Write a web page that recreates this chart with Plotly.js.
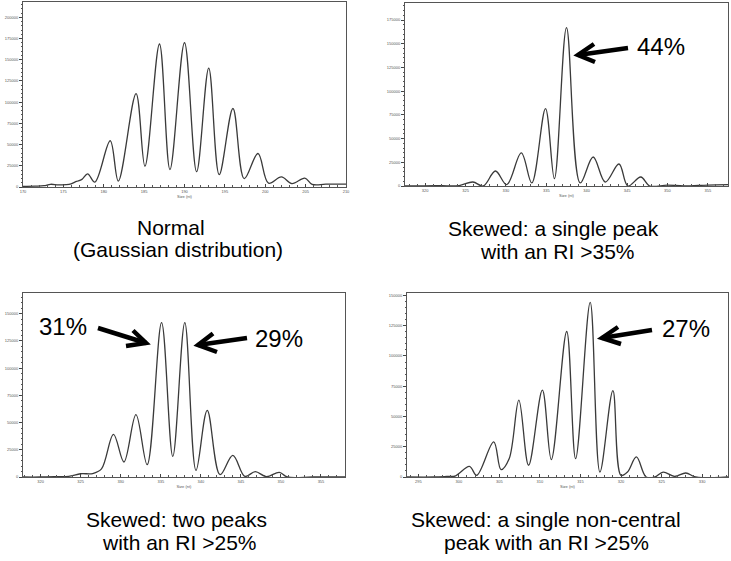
<!DOCTYPE html>
<html>
<head>
<meta charset="utf-8">
<script src="https://cdn.plot.ly/plotly-3.0.1.min.js"></script>
<style>html,body{margin:0;padding:0;background:#fff}#chart{width:731px;height:561px}</style>
</head>
<body>
<div id="chart"></div>
<script>
// ---------- data ----------
const normalSize = [170.0,171.5,172.6,173.4,174.4,175.7,176.6,177.3,178.0,178.9,180.8,181.8,184.0,185.1,186.9,188.2,190.0,191.5,193.0,194.3,196.0,197.4,199.1,200.4,202.0,203.3,204.9,205.8,207.5,210.0];
const normalRFU  = [800,1000,1500,3200,2500,3000,6500,9000,15500,5800,54500,7000,110000,24500,168500,20500,170000,18000,140000,14500,92500,9800,39500,4500,12000,4000,10500,3200,3300,3500];

const singlePeakSize = [317.5,320.0,322.0,324.2,325.9,327.2,328.7,330.1,331.9,333.2,334.9,336.0,337.5,339.2,340.8,342.3,344.0,345.1,346.7,347.8,350.0,352.0,355.0,357.5];
const singlePeakRFU  = [0,200,300,500,4200,0,15800,1400,34900,3200,81700,7700,167000,3200,30600,4200,23200,0,9500,0,1000,0,1000,1500];

const twoPeakSize = [317.8,320.0,322.0,323.5,325.0,326.5,327.6,329.1,330.4,331.9,333.3,335.1,336.5,338.0,339.4,340.8,342.4,344.0,345.5,346.8,348.2,349.8,350.8,354.0,358.0];
const twoPeakRFU  = [0,0,300,600,3000,3200,7500,39200,13800,57200,11300,141700,19000,141700,6100,61200,2100,19900,600,4900,300,4300,0,0,0];

const nonCentralSize = [293.6,297.0,298.5,299.6,301.3,302.2,304.3,305.2,306.2,307.4,308.6,310.3,311.4,313.3,314.4,316.2,317.4,319.0,320.0,320.8,321.9,323.1,324.2,325.2,326.6,328.0,329.2,333.2];
const nonCentralRFU  = [0,0,500,1000,8800,1400,29000,6100,15000,63500,9700,71800,14400,120200,15200,144200,4100,71300,1400,4100,16600,0,0,4100,500,3300,0,0];

const yTicks = [0,25000,50000,75000,100000,125000,150000,175000,200000];
const yTickText = ["0","25000","50000","75000","100000","125000","150000","175000","200000"];
const xTitle = "Size (nt)";

const captions = [
  ["Normal", "(Gaussian distribution)"],
  ["Skewed: a single peak", "with an RI >35%"],
  ["Skewed: two peaks", "with an RI >25%"],
  ["Skewed: a single non-central", "peak with an RI >25%"]
];
const percentLabels = ["44%", "31%", "29%", "27%"];

// ---------- layout helpers (pixel -> paper) ----------
const W = 731, H = 561;
const px = x => x / W;
const py = y => 1 - y / H;

const panels = [
  {xs: normalSize, ys: normalRFU, box: [23, 346, 2, 187], xr: [170, 210], yr: [0, 218000], xd: 5},
  {xs: singlePeakSize, ys: singlePeakRFU, box: [405, 728, 3, 186], xr: [317.5, 357.5], yr: [0, 193000], xd: 5},
  {xs: twoPeakSize, ys: twoPeakRFU, box: [23, 345, 293, 477], xr: [317.8, 358], yr: [0, 169000], xd: 5},
  {xs: nonCentralSize, ys: nonCentralRFU, box: [407, 728, 293, 477], xr: [293.6, 333.2], yr: [0, 152000], xd: 5}
];

const traces = [];
const layout = {
  width: W, height: H,
  margin: {l: 0, r: 0, t: 0, b: 0},
  paper_bgcolor: '#ffffff', plot_bgcolor: '#ffffff',
  showlegend: false,
  font: {family: 'Liberation Sans, Arial, sans-serif', color: '#000'},
  annotations: [], shapes: []
};

panels.forEach((p, i) => {
  const n = i === 0 ? '' : String(i + 1);
  traces.push({
    type: 'scatter', mode: 'lines', x: p.xs, y: p.ys,
    xaxis: 'x' + n, yaxis: 'y' + n,
    line: {color: '#3a3a3a', width: 1.3, shape: 'spline', smoothing: 1},
    hoverinfo: 'skip'
  });
  const [l, r, t, b] = p.box;
  layout['xaxis' + n] = {
    domain: [px(l), px(r)], range: p.xr, anchor: 'y' + n,
    showgrid: false, zeroline: false, showline: true, mirror: true,
    linecolor: '#555', linewidth: 1,
    ticks: 'inside', ticklen: 3, tickcolor: '#444', dtick: p.xd, tick0: 0,
    minor: {dtick: 1, ticks: 'inside', ticklen: 2, tickcolor: '#555', showgrid: false},
    tickfont: {size: 4, color: '#555'},
    title: {text: xTitle, font: {size: 4, color: '#555'}, standoff: 2}
  };
  layout['yaxis' + n] = {
    domain: [py(b), py(t)], range: p.yr, anchor: 'x' + n,
    showgrid: false, zeroline: false, showline: true, mirror: true,
    linecolor: '#555', linewidth: 1,
    ticks: 'outside', ticklen: 3, tickcolor: '#444',
    tickvals: yTicks, ticktext: yTickText,
    minor: {dtick: 5000, ticks: 'outside', ticklen: 1.5, tickcolor: '#555', showgrid: false},
    tickfont: {size: 4, color: '#555'}
  };
});

// captions (each line placed separately to reproduce the tight line spacing)
const capPos = [
  [[171, 227], [178, 250]],
  [[553, 228.5], [557, 251.5]],
  [[176, 519.5], [179.5, 542.5]],
  [[546, 519.5], [546, 542.5]]
];
captions.forEach((lines, i) => {
  lines.forEach((txt, j) => {
    layout.annotations.push({
      text: txt, xref: 'paper', yref: 'paper',
      x: px(capPos[i][j][0]), y: py(capPos[i][j][1]),
      xanchor: 'center', yanchor: 'middle', showarrow: false, borderpad: 0,
      font: {size: 21, color: '#000', family: 'Liberation Sans, Arial, sans-serif'}
    });
  });
});

// percentage labels
const pctPos = [[661, 46], [62.5, 326], [279, 338], [685.5, 328.3]];
percentLabels.forEach((t, i) => {
  layout.annotations.push({
    text: t, xref: 'paper', yref: 'paper',
    x: px(pctPos[i][0]), y: py(pctPos[i][1]),
    xanchor: 'center', yanchor: 'middle', showarrow: false, borderpad: 0,
    font: {size: 24, color: '#000', family: 'Liberation Sans, Arial, sans-serif'}
  });
});

// arrows: tip, tail, wing1, wing2 (pixels)
const arrows = [
  {tip: [578, 55], tail: [628, 48], w1: [594, 44], w2: [595, 62]},
  {tip: [146, 343], tail: [98, 328], w1: [133, 330.5], w2: [126, 346]},
  {tip: [198, 345], tail: [247, 338], w1: [213, 333.5], w2: [217, 352]},
  {tip: [602, 338], tail: [652, 330], w1: [618, 327], w2: [621, 344]}
];
const P = (pt) => px(pt[0]) + ',' + py(pt[1]);
arrows.forEach(a => {
  layout.shapes.push({
    type: 'line', xref: 'paper', yref: 'paper',
    x0: px(a.tip[0]), y0: py(a.tip[1]), x1: px(a.tail[0]), y1: py(a.tail[1]),
    line: {color: '#000', width: 4.5}
  });
  layout.shapes.push({
    type: 'path', xref: 'paper', yref: 'paper',
    path: 'M' + P(a.w1) + ' L' + P(a.tip) + ' L' + P(a.w2),
    line: {color: '#000', width: 4.5}
  });
});

Plotly.newPlot('chart', traces, layout, {staticPlot: true, displayModeBar: false});
</script>
</body>
</html>
